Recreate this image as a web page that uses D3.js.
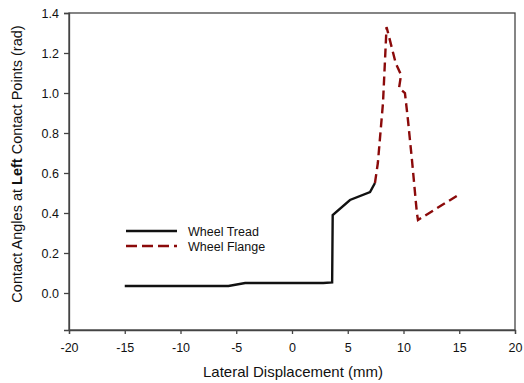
<!DOCTYPE html>
<html>
<head>
<meta charset="utf-8">
<script src="https://cdn.jsdelivr.net/npm/d3@7"></script>
<style>
  body { margin: 0; background: #fff; }
  svg { font-family: "Liberation Sans", Arial, sans-serif; }
  .axis path, .axis line { stroke: #444; stroke-width: 1.3; }
  .axis text { font-size: 12.5px; fill: #111; }
</style>
</head>
<body>
<div id="chart"></div>
<script>
// lateral displacement (mm) and contact angle (rad)
const treadX = [-15, -5.7, -4.2, 2.8, 3.6, 3.65, 5.2, 7.0, 7.44];
const treadY = [0.035, 0.035, 0.05, 0.05, 0.053, 0.39, 0.465, 0.505, 0.55];
const flangeX = [7.44, 7.7, 8.16, 8.48, 9.3, 9.78, 9.6, 10.13, 10.4, 10.76, 11.2, 11.3, 15.05];
const flangeY = [0.55, 0.65, 0.95, 1.33, 1.15, 1.09, 1.025, 1.0, 0.865, 0.665, 0.4, 0.365, 0.495];
const xTicks = [-20, -15, -10, -5, 0, 5, 10, 15, 20];
const yTicks = [0.0, 0.2, 0.4, 0.6, 0.8, 1.0, 1.2, 1.4];
const seriesNames = ["Wheel Tread", "Wheel Flange"];

const width = 524, height = 383;
const margin = { top: 13, right: 9, bottom: 53, left: 69 };
const w = width - margin.left - margin.right;
const h = height - margin.top - margin.bottom;

const svg = d3.select("#chart").append("svg")
  .attr("width", width)
  .attr("height", height);

const x = d3.scaleLinear().domain([-20, 20]).range([0, w]);
const y = d3.scaleLinear().domain([-0.185, 1.4]).range([h, 0]);

const chart = svg.append("g")
  .attr("transform", `translate(${margin.left}, ${margin.top})`);

// frame
chart.append("rect")
  .attr("width", w).attr("height", h)
  .attr("fill", "none").attr("stroke", "#444").attr("stroke-width", 1.3);

// plain hyphen for negatives, like the original
chart.append("g")
  .attr("class", "axis x")
  .attr("transform", `translate(0, ${h})`)
  .call(d3.axisBottom(x).tickValues(xTicks).tickFormat(d => String(d))
    .tickSizeOuter(0).tickSize(4).tickPadding(9));

chart.append("g")
  .attr("class", "axis y")
  .call(d3.axisLeft(y).tickValues(yTicks).tickFormat(d3.format(".1f")).tickSizeOuter(0).tickSize(5).tickPadding(5));

const line = d3.line().x(d => x(d[0])).y(d => y(d[1]));
const tread = treadX.map((v, i) => [v, treadY[i]]);
const flange = flangeX.map((v, i) => [v, flangeY[i]]);

chart.append("path")
  .datum(tread)
  .attr("d", line)
  .attr("fill", "none")
  .attr("stroke", "#111")
  .attr("stroke-width", 2.4);

chart.append("path")
  .datum(flange)
  .attr("d", line)
  .attr("fill", "none")
  .attr("stroke", "#8b0a0a")
  .attr("stroke-width", 2.4)
  .attr("stroke-dasharray", "9,5");

// legend
const legend = chart.append("g")
  .attr("transform", `translate(${126 - margin.left}, ${231 - margin.top})`);
seriesNames.forEach((name, i) => {
  legend.append("line")
    .attr("x1", 0).attr("x2", 51)
    .attr("y1", i * 15).attr("y2", i * 15)
    .attr("stroke", i === 0 ? "#111" : "#8b0a0a")
    .attr("stroke-width", 2.4)
    .attr("stroke-dasharray", i === 0 ? null : "11,5");
  legend.append("text")
    .attr("x", 62).attr("y", i * 15 + 4.5)
    .attr("font-size", "12.5px")
    .attr("fill", "#111")
    .text(name);
});

// axis labels
svg.append("text")
  .attr("text-anchor", "middle")
  .attr("x", margin.left + w / 2 + 1)
  .attr("y", 377)
  .attr("font-size", "15px")
  .attr("fill", "#111")
  .text("Lateral Displacement (mm)");

const yLabel = svg.append("text")
  .attr("text-anchor", "middle")
  .attr("transform", `translate(22, 164) rotate(-90)`)
  .attr("font-size", "14.5px")
  .attr("fill", "#111");
yLabel.append("tspan").text("Contact Angles at ");
yLabel.append("tspan").attr("font-weight", "bold").text("Left");
yLabel.append("tspan").text(" Contact Points (rad)");
</script>
</body>
</html>
